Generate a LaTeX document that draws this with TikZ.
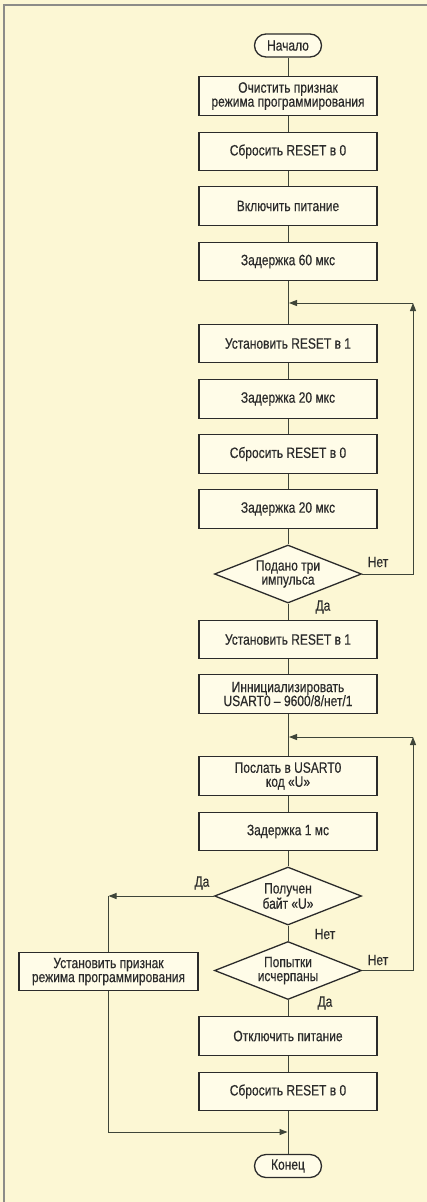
\documentclass[tikz,border=0pt]{standalone}
\usepackage{fontspec}
\setmainfont{Liberation Sans}[FakeStretch=0.80,FakeBold=0.4]
\usetikzlibrary{shapes.geometric,arrows.meta}
\definecolor{paper}{HTML}{FCF7D4}
\definecolor{boxfill}{HTML}{FFFCE8}
\definecolor{ink}{HTML}{2B2B2B}
\definecolor{wire}{HTML}{3E4539}
\definecolor{frame}{HTML}{8C8C88}
\begin{document}
\begin{tikzpicture}[x=1pt,y=-1pt,
  font=\fontsize{15}{14}\selectfont,
  every node/.style={text=ink},
  stepbox/.style={draw=ink,fill=boxfill,line width=1.3pt,minimum width=178pt,minimum height=38.5pt,inner sep=0pt,align=center},
  sidebox/.style={stepbox,minimum width=179pt},
  termbox/.style={draw=ink,fill=boxfill,line width=1.3pt,rounded corners=11.5pt,minimum width=67pt,minimum height=23pt,inner sep=0pt},
  decision/.style={draw=ink,fill=boxfill,line width=1.3pt,diamond,aspect=2.5,minimum width=147pt,minimum height=58pt,inner sep=0pt,align=center},
  wireline/.style={draw=wire,line width=1pt},
  arrow/.style={wireline,-{Triangle[length=8pt,width=6pt]}},
  lbl/.style={inner sep=0pt}
]
\useasboundingbox (0,0) rectangle (427,1202);
\fill[paper] (0,0) rectangle (427,1202);
\draw[frame,line width=2pt] (3.5,1202) -- (3.5,5) -- (427,5);

% main column
\node[termbox] (start) at (288,45.5) {Начало};
\node[stepbox] (b1) at (288,96) {Очистить признак\\режима программирования};
\node[stepbox] (b2) at (288,151.5) {Сбросить RESET в 0};
\node[stepbox] (b3) at (288,206) {Включить питание};
\node[stepbox] (b4) at (288,261.5) {Задержка 60 мкс};
\coordinate (m1) at (288,303);
\node[stepbox] (b5) at (288,343.5) {Установить RESET в 1};
\node[stepbox] (b6) at (288,399) {Задержка 20 мкс};
\node[stepbox] (b7) at (288,454) {Сбросить RESET в 0};
\node[stepbox] (b8) at (288,509) {Задержка 20 мкс};
\node[decision] (d1) at (288,574) {Подано три\\импульса};
\node[stepbox] (b9) at (288,639.5) {Установить RESET в 1};
\node[stepbox] (b10) at (288,694) {Иннициализировать\\USART0 – 9600/8/нет/1};
\coordinate (m2) at (288,737);
\node[stepbox] (b11) at (288,776) {Послать в USART0\\код «U»};
\node[stepbox] (b12) at (288,831.5) {Задержка 1 мс};
\node[decision] (d2) at (288,896) {Получен\\байт «U»};
\node[decision] (d3) at (288,970.5) {Попытки\\исчерпаны};
\node[stepbox] (b13) at (288,1036) {Отключить питание};
\node[stepbox] (b14) at (288,1091.5) {Сбросить RESET в 0};
\coordinate (j1) at (288,1132);
\node[termbox] (stop) at (288,1166) {Конец};

% side branch
\node[sidebox] (s1) at (108.5,971.5) {Установить признак\\режима программирования};

% loop corners
\coordinate (c1) at (413,303);
\coordinate (c2) at (413,737);
\coordinate (c3) at (108.5,896);

% straight connectors
\draw[wireline] (start) -- (b1);
\draw[wireline] (b1) -- (b2);
\draw[wireline] (b2) -- (b3);
\draw[wireline] (b3) -- (b4);
\draw[wireline] (b4) -- (b5);
\draw[wireline] (b5) -- (b6);
\draw[wireline] (b6) -- (b7);
\draw[wireline] (b7) -- (b8);
\draw[wireline] (b8) -- (d1);
\draw[wireline] (d1) -- (b9);
\draw[wireline] (b9) -- (b10);
\draw[wireline] (b10) -- (b11);
\draw[wireline] (b11) -- (b12);
\draw[wireline] (b12) -- (d2);
\draw[wireline] (d2) -- (d3);
\draw[wireline] (d3) -- (b13);
\draw[wireline] (b13) -- (b14);
\draw[wireline] (b14) -- (stop);

% pulse loop
\draw[arrow] (d1.east) -| (c1);
\draw[arrow] (c1) -- ([xshift=1pt]m1);
% retry loop
\draw[arrow] (d3.east) -| (c2);
\draw[arrow] (c2) -- ([xshift=1pt]m2);
% success branch
\draw[arrow] (d2.west) -- (c3);
\draw[wireline] (c3) -- (s1.north);
\draw[arrow] (s1.south) |- ([xshift=-0.5pt]j1);

% branch labels
\node[lbl] at (378,562) {Нет};
\node[lbl] at (323,607) {Да};
\node[lbl] at (202,883) {Да};
\node[lbl] at (325,934) {Нет};
\node[lbl] at (378,960) {Нет};
\node[lbl] at (325,1003) {Да};
\end{tikzpicture}
\end{document}
